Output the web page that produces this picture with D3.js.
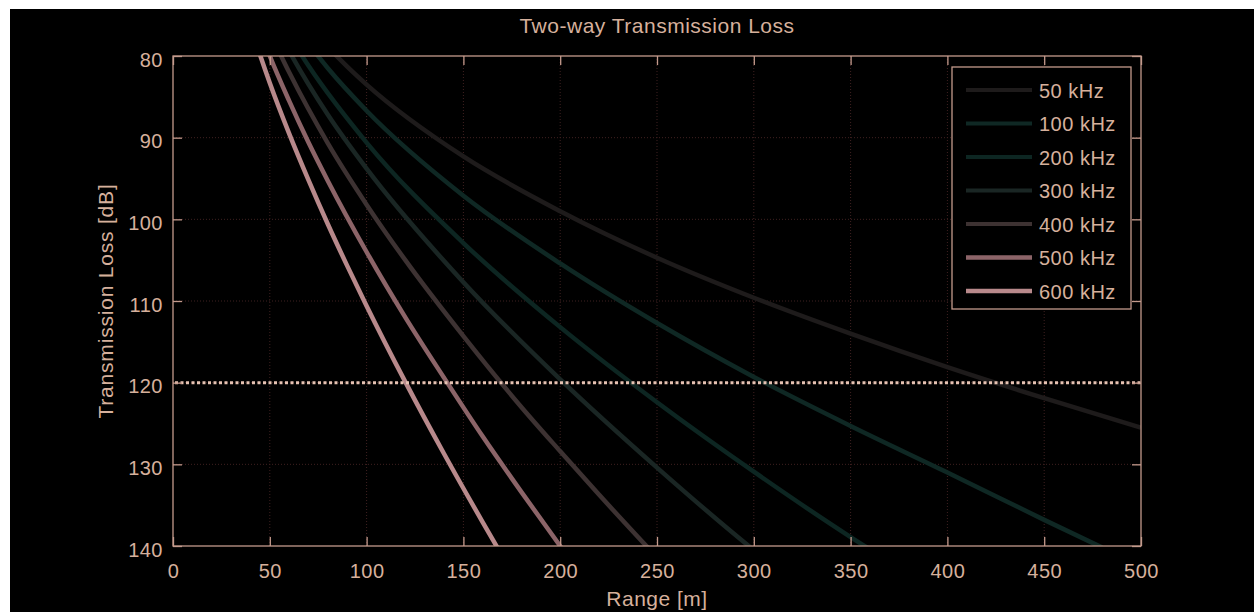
<!DOCTYPE html>
<html>
<head>
<meta charset="utf-8">
<script src="https://cdn.jsdelivr.net/npm/d3@7"></script>
<style>
  html, body { margin: 0; padding: 0; background: #fff; }
  svg { display: block; font-family: "Liberation Sans", Arial, sans-serif; }
</style>
</head>
<body>
<script>
// Frequencies and their colours as seen in the legend
let freqs = ["50 kHz", "100 kHz", "200 kHz", "300 kHz", "400 kHz", "500 kHz", "600 kHz"];
let colors = ["#1e1b1b", "#0f2824", "#0d2622", "#1a2624", "#3d3232", "#8c6468", "#b8898b"];

// Readings of each curve: range [m] and two-way loss [dB]
let range50 = [80, 90, 100, 150, 200, 250, 300, 350, 400, 450, 500];
let tl50 = [78.9, 81.3, 83.5, 92.3, 99.0, 104.7, 109.6, 114.0, 118.1, 121.9, 125.5];
let range100 = [70, 80, 100, 150, 200, 250, 300, 350, 400, 450, 480];
let tl100 = [78.5, 81.5, 86.7, 97.1, 105.4, 112.7, 119.3, 125.3, 131.0, 136.8, 140.2];
let range200 = [60, 70, 100, 150, 200, 250, 300, 350, 370];
let tl200 = [77.5, 81.2, 90.6, 102.9, 113.2, 122.4, 130.9, 138.9, 141.9];
let range300 = [55, 60, 80, 100, 150, 200, 250, 300, 310];
let tl300 = [77.2, 79.4, 87.2, 93.8, 107.7, 119.6, 130.4, 140.5, 142.4];
let range400 = [50, 60, 80, 100, 120, 150, 180, 200, 220, 250];
let tl400 = [77.1, 82.0, 90.7, 98.2, 105.0, 114.3, 123.0, 128.4, 133.7, 141.4];
let range500 = [45, 50, 60, 70, 80, 100, 120, 140, 160, 180, 200, 210];
let tl500 = [76.9, 80.0, 85.5, 90.6, 95.3, 104.0, 112.0, 119.4, 126.6, 133.4, 140.0, 143.3];
let range600 = [40, 45, 50, 60, 70, 80, 90, 100, 120, 140, 160, 170];
let tl600 = [76.3, 79.9, 83.3, 89.5, 95.2, 100.6, 105.7, 110.6, 119.9, 128.7, 137.1, 141.2];

let ranges = [range50, range100, range200, range300, range400, range500, range600];
let losses = [tl50, tl100, tl200, tl300, tl400, tl500, tl600];

let threshold = 120;
let xTicks = [0, 50, 100, 150, 200, 250, 300, 350, 400, 450, 500];
let yTicks = [80, 90, 100, 110, 120, 130, 140];

let W = 1254, H = 612;
let plot = { left: 173, right: 1141, top: 56, bottom: 546 };
let axisColor = "#c49a8c";
let textColor = "#d6b09c";

let svg = d3.select("body").append("svg")
    .attr("width", W)
    .attr("height", H);

// Figure background (white rim on top / left like the reference)
svg.append("rect").attr("x", 10).attr("y", 9).attr("width", W - 10).attr("height", H - 9).attr("fill", "#000");

let x = d3.scaleLinear([0, 500], [plot.left, plot.right]);
let y = d3.scaleLinear([80, 140], [plot.top, plot.bottom]);

svg.append("defs").append("clipPath").attr("id", "clip")
    .append("rect")
    .attr("x", plot.left).attr("y", plot.top)
    .attr("width", plot.right - plot.left).attr("height", plot.bottom - plot.top);

// Grid
let grid = svg.append("g").attr("stroke", "#3f2020").attr("stroke-width", 1).attr("stroke-dasharray", "1,2");
grid.selectAll(".gx").data(xTicks.slice(1, -1)).enter().append("line")
    .attr("x1", d => x(d)).attr("x2", d => x(d)).attr("y1", plot.top).attr("y2", plot.bottom);
grid.selectAll(".gy").data(yTicks.slice(1, -1)).enter().append("line")
    .attr("y1", d => y(d)).attr("y2", d => y(d)).attr("x1", plot.left).attr("x2", plot.right);

// Curves
let line = d3.line().curve(d3.curveMonotoneX);
svg.append("g").attr("clip-path", "url(#clip)")
    .selectAll("path")
    .data(freqs)
    .enter()
    .append("path")
    .attr("fill", "none")
    .attr("stroke", (d, i) => colors[i])
    .attr("stroke-width", 4.5)
    .attr("d", (d, i) => line(ranges[i].map((r, j) => [x(r), y(losses[i][j])])));

// Threshold line
svg.append("line")
    .attr("x1", plot.left + 2).attr("x2", plot.right)
    .attr("y1", y(threshold)).attr("y2", y(threshold))
    .attr("stroke", "#e6c2b2").attr("stroke-width", 3)
    .attr("stroke-dasharray", "3,2.5");

// Axes (box with inward ticks on all sides)
let bottomAxis = d3.axisBottom(x).tickValues(xTicks).tickSize(-9).tickPadding(18).tickFormat(d3.format("d"));
let topAxis = d3.axisTop(x).tickValues(xTicks).tickSize(-9).tickFormat("");
let leftAxis = d3.axisLeft(y).tickValues(yTicks).tickSize(-9).tickPadding(10).tickFormat(d3.format("d"));
let rightAxis = d3.axisRight(y).tickValues(yTicks).tickSize(-9).tickFormat("");

function styleAxis(g) {
    g.selectAll("path").attr("stroke", axisColor).attr("stroke-width", 1.3);
    g.selectAll("line").attr("stroke", axisColor).attr("stroke-width", 1.3);
    g.selectAll("text").attr("fill", textColor).style("font-size", "20px").style("letter-spacing", "0.5px");
}

svg.append("g").attr("transform", `translate(0,${plot.bottom})`).call(bottomAxis).call(styleAxis);
svg.append("g").attr("transform", `translate(0,${plot.top})`).call(topAxis).call(styleAxis);
svg.append("g").attr("transform", `translate(${plot.left},0)`).call(leftAxis).call(styleAxis)
    .selectAll("text").attr("dy", "0.5em");
svg.append("g").attr("transform", `translate(${plot.right},0)`).call(rightAxis).call(styleAxis);
svg.selectAll(".domain").attr("d", null);
svg.append("rect")
    .attr("x", plot.left).attr("y", plot.top)
    .attr("width", plot.right - plot.left).attr("height", plot.bottom - plot.top)
    .attr("fill", "none").attr("stroke", axisColor).attr("stroke-width", 1.3);

// Labels
svg.append("text")
    .attr("x", (plot.left + plot.right) / 2).attr("y", 33)
    .attr("text-anchor", "middle").attr("fill", textColor)
    .style("font-size", "21px").style("letter-spacing", "0.5px")
    .text("Two-way Transmission Loss");

svg.append("text")
    .attr("x", (plot.left + plot.right) / 2).attr("y", 606)
    .attr("text-anchor", "middle").attr("fill", textColor)
    .style("font-size", "21px").style("letter-spacing", "0.5px")
    .text("Range [m]");

svg.append("text")
    .attr("transform", `translate(113,${(plot.top + plot.bottom) / 2}) rotate(-90)`)
    .attr("text-anchor", "middle").attr("fill", textColor)
    .style("font-size", "21px").style("letter-spacing", "0.8px")
    .text("Transmission Loss [dB]");

// Legend
let legend = svg.append("g");
legend.append("rect")
    .attr("x", 952).attr("y", 67).attr("width", 179).attr("height", 242)
    .attr("fill", "#000").attr("stroke", axisColor).attr("stroke-width", 1.3);

let items = legend.selectAll(".legend")
    .data(freqs)
    .enter()
    .append("g")
    .attr("transform", (d, i) => `translate(0,${90 + i * 33.5})`);

items.append("line")
    .attr("x1", 966).attr("x2", 1032)
    .attr("stroke", (d, i) => colors[i])
    .attr("stroke-width", (d, i) => i >= 5 ? 4.5 : 4);

items.append("text")
    .attr("x", 1039).attr("dy", "0.38em")
    .attr("fill", textColor)
    .style("font-size", "20px").style("letter-spacing", "0.5px")
    .text(d => d);
</script>
</body>
</html>
